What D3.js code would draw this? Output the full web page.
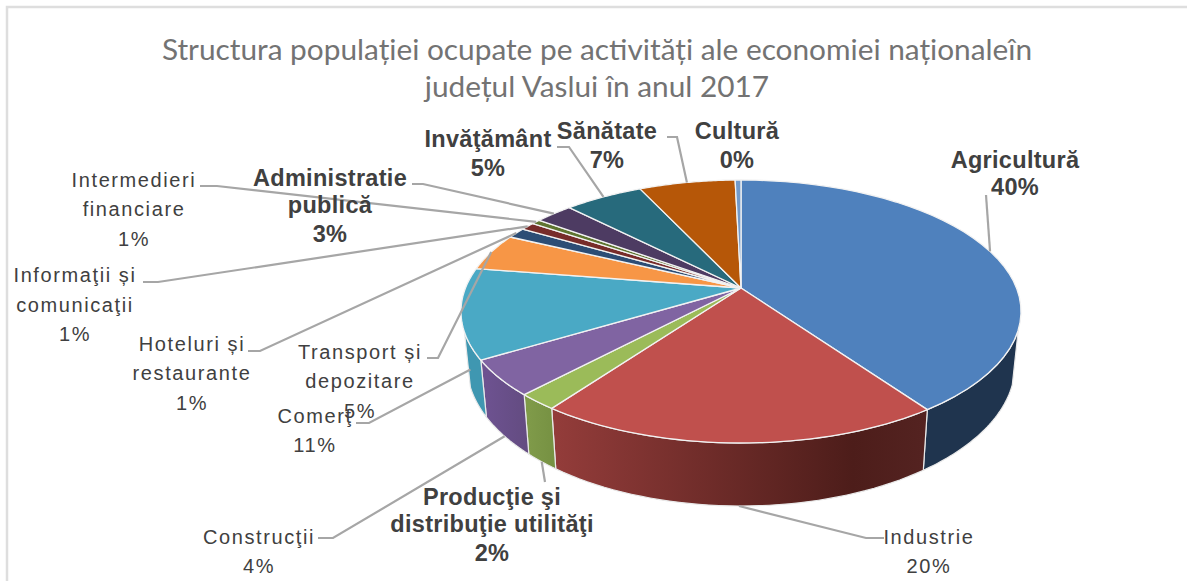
<!DOCTYPE html>
<meta charset="utf-8">
<style>
  html, body { margin: 0; padding: 0; background: #fff; }
  svg { display: block; }
</style>

<!-- Load d3.js -->
<script src="https://d3js.org/d3.v7.min.js"></script>

<div id="my_dataviz"></div>

<script>
// Data, in drawing order (clockwise from 12 o'clock)
var categories = ["Agricultură", "Industrie", "Producţie şi\ndistribuţie utilităţi", "Construcţii", "Comerţ",
  "Transport și\ndepozitare", "Hoteluri și\nrestaurante", "Informaţii și\ncomunicaţii", "Intermedieri\nfinanciare",
  "Administratie\npublică", "Invăţământ", "Sănătate", "Cultură"];
var shares = [40.2, 19.8, 2.0, 4.4, 11.1, 4.6, 1.3, 1.0, 0.6, 2.6, 5.4, 6.6, 0.4];
var titleLines = ["Structura populației ocupate pe activități ale economiei naționaleîn", "județul Vaslui în anul 2017"];

// Styles
var topColors = ["#4f81bd", "#c0504d", "#9bbb59", "#8064a2", "#4aa9c5", "#f79646", "#2c4d75", "#772c2a", "#5f7530", "#4d3b62", "#276a7c", "#b65708", "#729aca"];
var wallColors = {
  0: [[0, "#1f344e"], [1, "#1f344e"]],
  1: [[0, "#933c3a"], [0.8, "#4d1d1a"], [1, "#542321"]],
  2: [[0, "#7f9a49"], [1, "#779243"]],
  3: [[0, "#6d5290"], [1, "#644c82"]],
  4: [[0, "#3f97b1"], [1, "#3f97b1"]]
};
var boldLabel = [true, false, true, false, false, false, false, false, false, true, true, true, true];

// Label layout: centre x and baseline of every text line, leader start and elbow, where the leader lands
var labelLayout = [
  {x: 1015, y: [168, 195], from: [986, 195], elbow: null, land: "top"},
  {x: 929, y: [544, 573], from: [884, 538], elbow: [866, 538], land: "bottom"},
  {x: 492, y: [505, 532, 561], from: [545, 482], elbow: null, land: "bottom"},
  {x: 259, y: [544, 573], from: [318, 538], elbow: [333, 538], land: "bottom"},
  {x: 315, y: [423, 452], from: [356, 423], elbow: [369, 423], land: "side"},
  {x: 360, y: [359, 388, 418], from: [427, 358], elbow: [438, 358], land: "top"},
  {x: 192, y: [351, 380, 410], from: [248, 351], elbow: [260, 351], land: "top"},
  {x: 75, y: [282, 312, 341], from: [143, 282], elbow: [158, 282], land: "top"},
  {x: 134, y: [187, 216, 246], from: [200, 186], elbow: [217, 186], land: "top"},
  {x: 330, y: [186, 213, 242], from: [412, 184], elbow: [423, 184], land: "top"},
  {x: 488, y: [147, 176], from: [557, 147], elbow: [569, 147], land: "top"},
  {x: 607, y: [139, 168], from: [667, 137], elbow: [677, 137], land: "top"},
  {x: 737, y: [139, 168], from: null, elbow: null, land: "top"}
];

var width = 1187, height = 581;

var svg = d3.select("#my_dataviz")
  .append("svg")
    .attr("width", width)
    .attr("height", height);

// chart frame, only top and left show in the crop
svg.append("path")
  .attr("d", "M7," + height + "V7H" + width)
  .attr("fill", "none")
  .attr("stroke", "#dedede")
  .attr("stroke-width", 2.5);

// Title
svg.selectAll(".title")
  .data(titleLines)
  .enter().append("text")
    .attr("class", "title")
    .attr("x", 597)
    .attr("y", function(d, i) { return 60 + i * 37; })
    .attr("text-anchor", "middle")
    .style("font-family", "Lato")
    .style("font-size", "29.8px")
    .style("fill", "#737373")
    .text(function(d) { return d; });

// Pie angles
var pie = d3.pie().sort(null).value(function(d) { return d; });
var arcs = pie(shares);

// Perspective of the disc: the pie centre sits above the centre of the rim ellipse
var apex = {x: 741, y: 288}, persp = {s: 275.5, t: 127.3, k: 0.1787};
var topRim = {cx: 741, cy: 311.5, rx: 280, ry: 131.5};
var bottomRim = {cx: 741, cy: 365, rx: 274, ry: 141};
var visibleFrom = 8 * Math.PI / 180, visibleTo = 171 * Math.PI / 180;

function onTop(theta) {
  var X = Math.sin(theta), Y = Math.cos(theta), w = 1 + persp.k * Y;
  return [apex.x + persp.s * X / w, apex.y - persp.t * Y / w];
}
// angle on the rim ellipse, from 3 o'clock clockwise, in -90deg..270deg
function rimAngle(theta) {
  var p = onTop(theta);
  var a = Math.atan2((p[1] - topRim.cy) / topRim.ry, (p[0] - topRim.cx) / topRim.rx);
  return a < -Math.PI / 2 - 1e-6 ? a + 2 * Math.PI : a;
}
function onRim(rim, phi) {
  return [rim.cx + rim.rx * Math.cos(phi), rim.cy + rim.ry * Math.sin(phi)];
}

var line = d3.line();

function topPath(a) {
  var pts = [[apex.x, apex.y]];
  d3.range(0, 41).forEach(function(i) {
    pts.push(onTop(a.startAngle + (a.endAngle - a.startAngle) * i / 40));
  });
  return line(pts) + "Z";
}

function wallPath(a) {
  var f0 = Math.max(rimAngle(a.startAngle), visibleFrom);
  var f1 = Math.min(rimAngle(a.endAngle), visibleTo);
  if (a.endAngle >= 2 * Math.PI - 1e-6 || f1 <= f0) return null;
  var steps = d3.range(0, 41).map(function(i) { return f0 + (f1 - f0) * i / 40; });
  var upper = steps.map(function(f) { return onRim(topRim, f); });
  var lower = steps.slice().reverse().map(function(f) { return onRim(bottomRim, f); });
  return line(upper.concat(lower)) + "Z";
}

// Wall gradients
var defs = svg.append("defs");
Object.keys(wallColors).forEach(function(i) {
  var a = arcs[+i];
  var x0 = onRim(bottomRim, Math.min(rimAngle(a.endAngle), visibleTo))[0];
  var x1 = onRim(topRim, Math.max(rimAngle(a.startAngle), visibleFrom))[0];
  var grad = defs.append("linearGradient")
    .attr("id", "wall" + i)
    .attr("gradientUnits", "userSpaceOnUse")
    .attr("x1", x0).attr("x2", x1).attr("y1", 0).attr("y2", 0);
  wallColors[i].forEach(function(s) {
    grad.append("stop").attr("offset", s[0]).attr("stop-color", s[1]);
  });
});

// Side walls
svg.selectAll(".wall")
  .data(arcs.filter(function(a) { return wallPath(a) !== null; }))
  .enter().append("path")
    .attr("class", "wall")
    .attr("d", wallPath)
    .attr("fill", function(a) { return "url(#wall" + a.index + ")"; })
    .attr("stroke", "#e9e9e9")
    .attr("stroke-width", 1.2)
    .attr("stroke-linejoin", "round");

// Top faces
svg.selectAll(".slice")
  .data(arcs)
  .enter().append("path")
    .attr("class", "slice")
    .attr("d", topPath)
    .attr("fill", function(a) { return topColors[a.index]; })
    .attr("stroke", "#f2f2f2")
    .attr("stroke-width", 1.3)
    .attr("stroke-linejoin", "round");

// Leader lines
function landing(a, kind) {
  var mid = (a.startAngle + a.endAngle) / 2;
  if (kind === "top") return onTop(mid);
  var phi = Math.max(visibleFrom, Math.min(visibleTo, rimAngle(mid)));
  var low = onRim(bottomRim, phi);
  if (kind === "bottom") return low;
  var up = onRim(topRim, phi);
  return [(up[0] + low[0]) / 2 + 3, (up[1] + low[1]) / 2 + 10];
}

svg.selectAll(".leader")
  .data(arcs.filter(function(a) { return labelLayout[a.index].from; }))
  .enter().append("path")
    .attr("class", "leader")
    .attr("d", function(a) {
      var l = labelLayout[a.index];
      var pts = [l.from];
      if (l.elbow) pts.push(l.elbow);
      pts.push(landing(a, l.land));
      return line(pts);
    })
    .attr("fill", "none")
    .attr("stroke", "#a6a6a6")
    .attr("stroke-width", 2.2);

// Labels: category lines, then the rounded share
var pct = d3.format(".0f");
var labels = svg.selectAll(".label")
  .data(arcs)
  .enter().append("text")
    .attr("class", "label")
    .attr("text-anchor", "middle")
    .style("font-family", "Liberation Sans")
    .style("fill", "#404040")
    .style("font-weight", function(a) { return boldLabel[a.index] ? "bold" : "normal"; })
    .style("font-size", function(a) { return boldLabel[a.index] ? "23.5px" : "20px"; })
    .style("letter-spacing", function(a) { return boldLabel[a.index] ? "0.3px" : "1.6px"; });

labels.selectAll("tspan")
  .data(function(a) {
    var l = labelLayout[a.index];
    return categories[a.index].split("\n").concat(pct(shares[a.index]) + "%").map(function(t, i) {
      return {text: t, x: l.x, y: l.y[i]};
    });
  })
  .enter().append("tspan")
    .attr("x", function(d) { return d.x; })
    .attr("y", function(d) { return d.y; })
    .text(function(d) { return d.text; });
</script>
